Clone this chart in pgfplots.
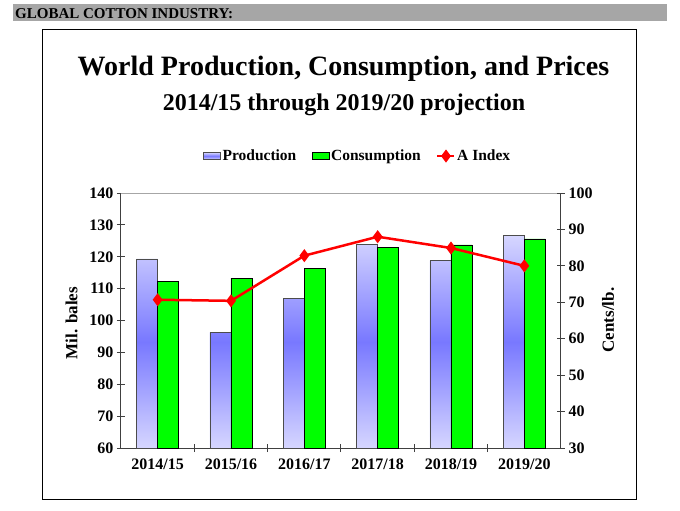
\documentclass[border=0pt]{standalone}
\usepackage{pgfplots}
\pgfplotsset{compat=1.18}
\usepackage{pgfplotstable}
\usepackage{fontspec}
\setmainfont{Liberation Serif}

\definecolor{prodlight}{RGB}{214,214,255}
\definecolor{proddark}{RGB}{120,120,255}
\definecolor{consgreen}{RGB}{0,255,0}
\definecolor{bannergray}{RGB}{166,166,166}
\definecolor{axisgray}{RGB}{64,64,64}

% World cotton production and consumption, million bales
\pgfplotstableread{
idx prod cons
0 119.3 112.3
1 96.3 113.3
2 106.9 116.4
3 123.8 122.8
4 118.8 123.7
5 126.6 125.6
}\supplytable

% Cotlook A Index, cents per pound
\pgfplotstableread{
idx aindex
0 70.7
1 70.4
2 82.8
3 88.0
4 84.9
5 80.0
}\pricetable

\newcommand{\fsz}[1]{\fontsize{#1bp}{#1bp}\selectfont}

\begin{document}
\begin{tikzpicture}
\useasboundingbox (0,0) rectangle (680bp,-511bp);
% section banner
\fill[bannergray] (12.7bp,-4bp) rectangle (666.7bp,-20.7bp);
\node[anchor=base west, inner sep=0pt, font=\bfseries\fsz{15}] at (15bp,-18.3bp) {GLOBAL COTTON INDUSTRY:};
% chart frame
\draw[black, line width=1bp] (42.7bp,-29.3bp) rectangle (636.7bp,-499.3bp);
\node[anchor=base, inner sep=0pt, font=\bfseries\fsz{28}] at (343.5bp,-75bp) {World Production, Consumption, and Prices};
\node[anchor=base, inner sep=0pt, font=\bfseries\fsz{24}] at (344bp,-110.7bp) {2014/15 through 2019/20 projection};

\begin{axis}[
  at={(121bp,-448bp)}, anchor=south west,
  scale only axis, width=440bp, height=255bp,
  xmin=-0.5, xmax=5.5, ymin=60, ymax=140,
  y coord trafo/.code={\pgfmathparse{#1-60}},
  y coord inv trafo/.code={\pgfmathparse{#1+60}},
  axis x line*=bottom, axis y line*=left,
  axis line style={axisgray, line width=1bp, -},
  xtick={0.5,1.5,2.5,3.5,4.5}, xticklabels={},
  extra x ticks={0,1,2,3,4,5},
  extra x tick labels={2014/15,2015/16,2016/17,2017/18,2018/19,2019/20},
  extra x tick style={major tick length=0pt, xticklabel style={yshift=-7bp}},
  ytick={60,70,80,90,100,110,120,130,140},
  yticklabels={60,70,80,90,100,110,120,130,140},
  tick align=center, major tick length=8bp,
  tick style={axisgray, line width=1bp},
  tick label style={font=\bfseries\fsz{16}},
  ylabel={Mil. bales},
  ylabel style={at={(axis description cs:-0.112,0.49)}, anchor=center, font=\bfseries\fsz{17}},
  legend columns=3,
  legend style={at={(axis description cs:0.5375,1.145)}, anchor=center,
    draw=none, fill=none, font=\bfseries\fsz{15.5}, inner sep=0pt,
    nodes={inner sep=1.5bp},
    /tikz/every even column/.append style={column sep=14bp}},
  legend cell align=left,
]
\addplot[ybar, bar width=21bp, bar shift=-10.5bp, draw=black!70, line width=0.8bp,
  top color=prodlight, bottom color=prodlight, middle color=proddark,
  legend image code/.code={\draw[draw=black!70, line width=0.8bp, top color=prodlight, bottom color=prodlight, middle color=proddark] (0bp,-3.5bp) rectangle (17bp,3.5bp);}]
  table[x=idx, y=prod]{\supplytable};
\addlegendentry{Production}
\addplot[ybar, bar width=21bp, bar shift=10.5bp, draw=black, line width=0.8bp, fill=consgreen,
  legend image code/.code={\draw[draw=black, line width=0.8bp, fill=consgreen] (0bp,-3.5bp) rectangle (17bp,3.5bp);}]
  table[x=idx, y=cons]{\supplytable};
\addlegendentry{Consumption}
\addlegendimage{red, line width=2.5bp, mark=diamond*, mark size=4.5bp}
\addlegendentry{A Index}
\draw[black!35, line width=1bp] (rel axis cs:0,1) -- (rel axis cs:1,1);
\end{axis}

\begin{axis}[
  at={(121bp,-448bp)}, anchor=south west,
  scale only axis, width=440bp, height=255bp,
  xmin=-0.5, xmax=5.5, ymin=30, ymax=100,
  axis y line*=right, axis x line=none,
  axis line style={axisgray, line width=1bp, -},
  ytick={30,40,50,60,70,80,90,100},
  yticklabels={30,40,50,60,70,80,90,100},
  tick align=center, major tick length=8bp,
  tick style={axisgray, line width=1bp},
  tick label style={font=\bfseries\fsz{16}},
  ylabel={Cents/lb.},
  ylabel style={at={(axis description cs:1.107,0.502)}, anchor=center, rotate=0, font=\bfseries\fsz{17}},
]
\addplot[red, line width=2.5bp, mark=diamond*, mark size=4.5bp]
  table[x=idx, y=aindex]{\pricetable};
\end{axis}
\end{tikzpicture}
\end{document}
